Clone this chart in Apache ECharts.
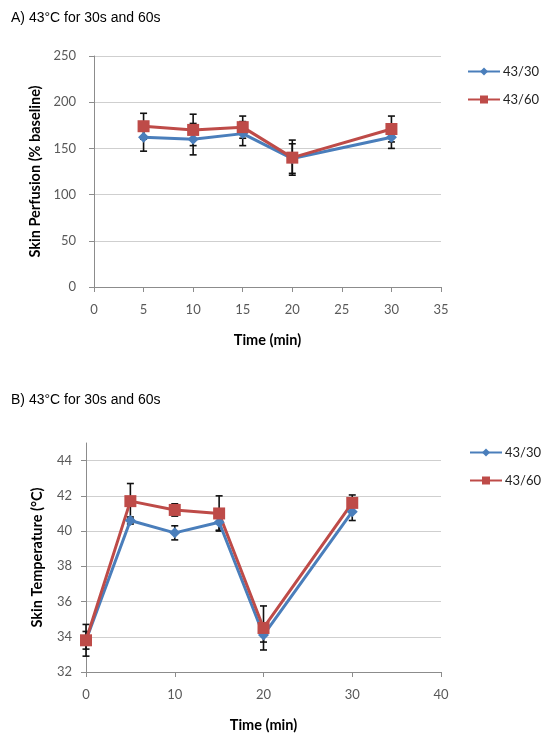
<!DOCTYPE html>
<html>
<head>
<meta charset="utf-8">
<script src="https://cdn.jsdelivr.net/npm/echarts@6/dist/echarts.min.js"></script>
<style>
html,body{margin:0;padding:0;background:#fff;}
#c{width:549px;height:745px;}
</style>
</head>
<body>
<div id="c"></div>
<script>
// ---- Data ----
var seriesNames = ['43/30', '43/60'];

// Panel A: Skin Perfusion (% baseline)
var timesA = [5, 10, 15, 20, 30];
var perf4330 = [162, 160, 166, 139, 162];
var perf4330Err = [15, 17, 13, 16, 12];
var perf4360 = [174, 170, 173, 140, 171];
var perf4360Err = [14, 17, 12, 19, 14];
var yTicksA = [0, 50, 100, 150, 200, 250];
var xTicksA = [0, 5, 10, 15, 20, 25, 30, 35];

// Panel B: Skin Temperature (°C)
var timesB = [0, 5, 10, 15, 20, 30];
var temp4330 = [33.8, 40.6, 39.9, 40.5, 34.1, 41.1];
var temp4330Err = [0.5, 0.2, 0.4, 0.45, 0.4, 0.5];
var temp4360 = [33.8, 41.7, 41.2, 41.0, 34.5, 41.6];
var temp4360Err = [0.9, 1.0, 0.35, 1.0, 1.25, 0.45];
var yTicksB = [32, 34, 36, 38, 40, 42, 44];
var xTicksB = [0, 10, 20, 30, 40];

var titleA = 'A) 43°C for 30s and 60s';
var titleB = 'B) 43°C for 30s and 60s';

// ---- Helpers ----
function pairs(xs, ys) { return xs.map(function (x, i) { return [x, ys[i]]; }); }
function errData(xs, ys, es) { return xs.map(function (x, i) { return [x, ys[i] - es[i], ys[i] + es[i]]; }); }

var BLUE = '#4a7ebb', RED = '#be4b48';
var AXIS = '#8c8c8c', GRID = '#cfcfcf', LABEL = '#595959';
var FONT = 'Lato, "Open Sans", sans-serif';

function renderErr(params, api) {
  var x = api.value(0);
  var lo = api.coord([x, api.value(1)]);
  var hi = api.coord([x, api.value(2)]);
  var w = 3.5;
  var st = { stroke: '#111', lineWidth: 1.6 };
  return {
    type: 'group',
    children: [
      { type: 'line', shape: { x1: lo[0], y1: lo[1], x2: hi[0], y2: hi[1] }, style: st },
      { type: 'line', shape: { x1: hi[0] - w, y1: hi[1], x2: hi[0] + w, y2: hi[1] }, style: st },
      { type: 'line', shape: { x1: lo[0] - w, y1: lo[1], x2: lo[0] + w, y2: lo[1] }, style: st }
    ]
  };
}

function xAxisCfg(gridIndex, min, max, interval) {
  return {
    type: 'value', gridIndex: gridIndex, min: min, max: max, interval: interval,
    name: 'Time (min)', nameLocation: 'middle', nameGap: 46,
    nameTextStyle: { fontFamily: FONT, fontWeight: 'bold', fontSize: 14.5, color: '#000' },
    axisLine: { show: true, onZero: false, lineStyle: { color: AXIS, width: 1 } },
    axisTick: { show: true, length: 5, inside: false, lineStyle: { color: AXIS } },
    axisLabel: { fontFamily: FONT, fontSize: 13, color: LABEL, margin: 16 },
    splitLine: { show: false }
  };
}

var lineCommon = {
  type: 'line', z: 3,
  emphasis: { disabled: true }
};

var chart = echarts.init(document.getElementById('c'), null, { renderer: 'canvas' });
chart.setOption({
  animation: false,
  backgroundColor: '#fff',
  title: [
    { text: titleA, left: 6, top: 6, textStyle: { fontFamily: '"Liberation Sans", Arial, sans-serif', fontWeight: 'normal', fontSize: 14, color: '#000' } },
    { text: titleB, left: 6, top: 388, textStyle: { fontFamily: '"Liberation Sans", Arial, sans-serif', fontWeight: 'normal', fontSize: 14, color: '#000' } }
  ],
  legend: [
    { left: 462, top: 60, orient: 'vertical', itemWidth: 32, itemHeight: 10, itemGap: 15,
      data: seriesNames, textStyle: { fontFamily: FONT, fontSize: 13, color: '#222', padding: [0, 0, 0, -2] }, selectedMode: false },
    { left: 464, top: 441, orient: 'vertical', itemWidth: 32, itemHeight: 10, itemGap: 15,
      data: seriesNames, textStyle: { fontFamily: FONT, fontSize: 13, color: '#222', padding: [0, 0, 0, -2] }, selectedMode: false }
  ],
  grid: [
    { left: 94, top: 56, width: 347, height: 231 },
    { left: 86, top: 443, width: 355, height: 229 }
  ],
  xAxis: [
    xAxisCfg(0, xTicksA[0], xTicksA[xTicksA.length - 1], 5),
    xAxisCfg(1, xTicksB[0], xTicksB[xTicksB.length - 1], 10)
  ],
  yAxis: [
    {
      type: 'value', gridIndex: 0, min: yTicksA[0], max: yTicksA[yTicksA.length - 1], interval: 50,
      name: 'Skin Perfusion (% baseline)', nameLocation: 'middle', nameGap: 51,
      nameTextStyle: { fontFamily: FONT, fontWeight: 'bold', fontSize: 14.5, color: '#000' },
      axisLine: { show: true, lineStyle: { color: AXIS } },
      axisTick: { show: true, length: 5, lineStyle: { color: AXIS } },
      axisLabel: { fontFamily: FONT, fontSize: 13, color: LABEL, margin: 18 },
      splitLine: { show: true, lineStyle: { color: GRID, width: 1 } }
    },
    {
      type: 'value', gridIndex: 1, min: yTicksB[0], max: 45, interval: 2,
      name: 'Skin Temperature (°C)', nameLocation: 'middle', nameGap: 41,
      nameTextStyle: { fontFamily: FONT, fontWeight: 'bold', fontSize: 14.5, color: '#000' },
      axisLine: { show: true, lineStyle: { color: AXIS } },
      axisTick: { show: true, length: 5, lineStyle: { color: AXIS }, customValues: yTicksB },
      axisLabel: { fontFamily: FONT, fontSize: 13, color: LABEL, margin: 14, customValues: yTicksB },
      splitLine: { show: true, lineStyle: { color: [GRID, GRID, GRID, GRID, GRID, GRID, GRID, 'rgba(0,0,0,0)'], width: 1 } }
    }
  ],
  series: [
    { type: 'custom', xAxisIndex: 0, yAxisIndex: 0, z: 1, renderItem: renderErr, data: errData(timesA, perf4330, perf4330Err), silent: true },
    { type: 'custom', xAxisIndex: 0, yAxisIndex: 0, z: 1, renderItem: renderErr, data: errData(timesA, perf4360, perf4360Err), silent: true },
    { type: 'custom', xAxisIndex: 1, yAxisIndex: 1, z: 1, renderItem: renderErr, data: errData(timesB, temp4330, temp4330Err), silent: true },
    { type: 'custom', xAxisIndex: 1, yAxisIndex: 1, z: 1, renderItem: renderErr, data: errData(timesB, temp4360, temp4360Err), silent: true },
    Object.assign({}, lineCommon, { name: seriesNames[0], xAxisIndex: 0, yAxisIndex: 0, data: pairs(timesA, perf4330),
      symbol: 'diamond', symbolSize: 11, itemStyle: { color: BLUE }, lineStyle: { width: 3, color: BLUE } }),
    Object.assign({}, lineCommon, { name: seriesNames[1], xAxisIndex: 0, yAxisIndex: 0, data: pairs(timesA, perf4360),
      symbol: 'rect', symbolSize: 12, itemStyle: { color: RED }, lineStyle: { width: 3, color: RED } }),
    Object.assign({}, lineCommon, { name: seriesNames[0], xAxisIndex: 1, yAxisIndex: 1, data: pairs(timesB, temp4330),
      symbol: 'diamond', symbolSize: 11, itemStyle: { color: BLUE }, lineStyle: { width: 3, color: BLUE } }),
    Object.assign({}, lineCommon, { name: seriesNames[1], xAxisIndex: 1, yAxisIndex: 1, data: pairs(timesB, temp4360),
      symbol: 'rect', symbolSize: 12, itemStyle: { color: RED }, lineStyle: { width: 3, color: RED } })
  ]
});
</script>
</body>
</html>
